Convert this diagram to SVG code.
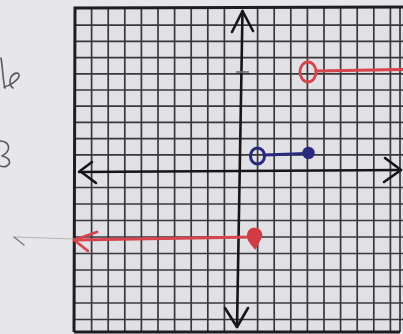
<svg xmlns="http://www.w3.org/2000/svg" width="403" height="334" viewBox="0 0 403 334">
<defs>
<style>
.g line{stroke:#38383c;stroke-width:1.7}
.frame{stroke:#1e1e20;stroke-width:3;fill:none}
.axis{stroke:#161618;stroke-width:2.6;fill:none;stroke-linecap:round;stroke-linejoin:round}
.red{stroke:#d8434d;stroke-width:2.8;fill:none;stroke-linecap:round;stroke-linejoin:round}
.blue{stroke:#28297f;stroke-width:3;fill:none;stroke-linecap:round}
.pencil{stroke:#5a5a5e;stroke-width:1.6;fill:none;stroke-linecap:round;stroke-linejoin:round}
</style>
</defs>
<rect x="0" y="0" width="403" height="334" fill="#e7e7e9"/>
<rect x="75" y="8" width="328" height="324" fill="#e0e0e5"/>
<g id="grid" class="g">
<line x1="91.6" y1="8" x2="91.6" y2="332"/>
<line x1="108.2" y1="8" x2="108.2" y2="332"/>
<line x1="124.8" y1="8" x2="124.8" y2="332"/>
<line x1="141.4" y1="8" x2="141.4" y2="332"/>
<line x1="158" y1="8" x2="158" y2="332"/>
<line x1="174.6" y1="8" x2="174.6" y2="332"/>
<line x1="191.2" y1="8" x2="191.2" y2="332"/>
<line x1="207.8" y1="8" x2="207.8" y2="332"/>
<line x1="224.4" y1="8" x2="224.4" y2="332"/>
<line x1="257.6" y1="8" x2="257.6" y2="332"/>
<line x1="274.2" y1="8" x2="274.2" y2="332"/>
<line x1="290.8" y1="8" x2="290.8" y2="332"/>
<line x1="307.4" y1="8" x2="307.4" y2="332"/>
<line x1="324" y1="8" x2="324" y2="332"/>
<line x1="340.6" y1="8" x2="340.6" y2="332"/>
<line x1="357.2" y1="8" x2="357.2" y2="332"/>
<line x1="373.8" y1="8" x2="373.8" y2="332"/>
<line x1="390.4" y1="8" x2="390.4" y2="332"/>
<line x1="400" y1="8" x2="400" y2="332"/>
<line x1="75" y1="25.2" x2="403" y2="25.2"/>
<line x1="75" y1="41.4" x2="403" y2="41.4"/>
<line x1="75" y1="57.6" x2="403" y2="57.6"/>
<line x1="75" y1="73.8" x2="403" y2="73.8"/>
<line x1="75" y1="90" x2="403" y2="90"/>
<line x1="75" y1="106.2" x2="403" y2="106.2"/>
<line x1="75" y1="122.4" x2="403" y2="122.4"/>
<line x1="75" y1="138.6" x2="403" y2="138.6"/>
<line x1="75" y1="154.8" x2="403" y2="154.8"/>
<line x1="75" y1="187.5" x2="403" y2="187.5"/>
<line x1="75" y1="204" x2="403" y2="204"/>
<line x1="75" y1="220.5" x2="403" y2="220.5"/>
<line x1="75" y1="237" x2="403" y2="237"/>
<line x1="75" y1="253.5" x2="403" y2="253.5"/>
<line x1="75" y1="270" x2="403" y2="270"/>
<line x1="75" y1="286.5" x2="403" y2="286.5"/>
<line x1="75" y1="303" x2="403" y2="303"/>
<line x1="75" y1="319.5" x2="403" y2="319.5"/>
</g>
<path class="frame" d="M74,332 L75,8 L403,7 M74,332 L400,332"/>
<g id="axes">
<path class="axis" d="M242.5,11 L237,327"/>
<path class="axis" d="M232,32 L242.5,11 L253,31"/>
<path class="axis" d="M225,308 L237,327 L248,308"/>
<path class="axis" d="M79,172 L401,170"/>
<path class="axis" d="M385,158 L401,170 L384,182"/>
<path class="axis" d="M92,162 L80,171 L96,183" stroke-width="2.2"/>
<line x1="236" y1="72" x2="249" y2="72" stroke="#707074" stroke-width="1.6"/>
</g>
<g id="pencil">
<path d="M14,237 L74,239" stroke="#b4b4b8" stroke-width="1.2" fill="none"/>
<path d="M14,237 L24,245" stroke="#7a7a7e" stroke-width="1.4" fill="none" stroke-linecap="round"/>
<path class="pencil" d="M1,58 C3,70 3,82 5,88 M4,87 C10,86 18,80 19,76 C20,72 14,72 11,77 C9,81 10,86 13,88"/>
<path class="pencil" d="M0,141 C6,141 10,145 8,150 C7,153 4,155 2,156 C7,157 11,160 9,164 C7,167 3,167 0,166"/>
</g>
<g id="piece-top">
<ellipse class="red" cx="308" cy="72" rx="8" ry="10"/>
<path class="red" d="M316,71 L403,69.5"/>
</g>
<g id="piece-middle">
<ellipse class="blue" cx="257.5" cy="156" rx="7" ry="8"/>
<path class="blue" d="M264.5,155 L306,153.5"/>
<circle cx="308.5" cy="153" r="6.2" fill="#28297f"/>
</g>
<g id="piece-bottom">
<path class="red" d="M254,237 L75,240"/>
<path class="red" d="M97,232 L74,240 L88,251"/>
<path d="M247,236 C247,229 252,227 256,228 C262,229 264,235 261,239 C259,243 257,247 255,250 C253,246 247,242 247,236 Z" fill="#d23a44"/>
</g>
</svg>
